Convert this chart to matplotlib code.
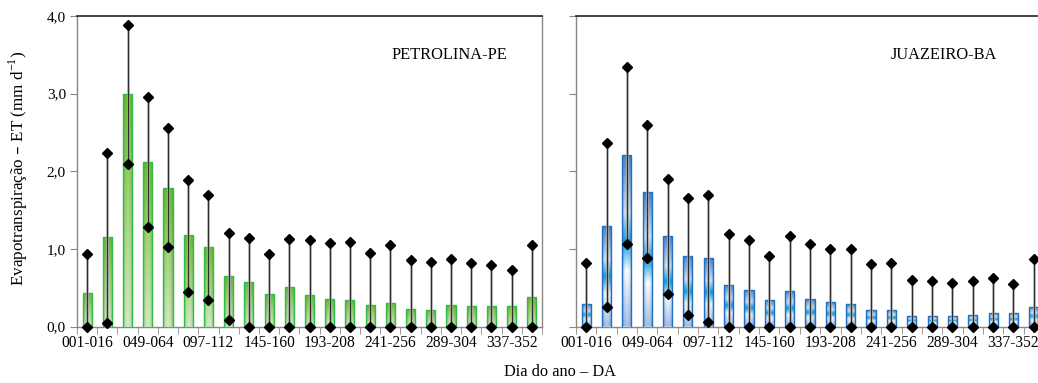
import numpy as np
import matplotlib
matplotlib.use("Agg")
import matplotlib.pyplot as plt
from matplotlib.colors import LinearSegmentedColormap, to_rgb

plt.rcParams['font.family'] = ['Liberation Serif', 'DejaVu Serif']

periods = ["001-016", "017-032", "033-048", "049-064", "065-080", "081-096",
           "097-112", "113-128", "129-144", "145-160", "161-176", "177-192",
           "193-208", "209-224", "225-240", "241-256", "257-272", "273-288",
           "289-304", "305-320", "321-336", "337-352", "353-365"]

pet_mean = [0.43, 1.15, 2.99, 2.12, 1.79, 1.18, 1.03, 0.65, 0.57, 0.42, 0.51, 0.41,
            0.36, 0.34, 0.28, 0.30, 0.22, 0.21, 0.28, 0.26, 0.26, 0.26, 0.38]
pet_max = [0.94, 2.24, 3.89, 2.96, 2.56, 1.89, 1.70, 1.20, 1.14, 0.93, 1.13, 1.12,
           1.07, 1.09, 0.95, 1.05, 0.86, 0.83, 0.87, 0.82, 0.79, 0.73, 1.05]
pet_min = [0.0, 0.04, 2.09, 1.28, 1.02, 0.45, 0.34, 0.09, 0.0, 0.0, 0.0, 0.0,
           0.0, 0.0, 0.0, 0.0, 0.0, 0.0, 0.0, 0.0, 0.0, 0.0, 0.0]

jua_mean = [0.29, 1.30, 2.21, 1.73, 1.16, 0.91, 0.88, 0.53, 0.47, 0.34, 0.46, 0.36,
            0.31, 0.29, 0.21, 0.21, 0.14, 0.14, 0.14, 0.15, 0.17, 0.17, 0.25]
jua_max = [0.82, 2.36, 3.34, 2.59, 1.90, 1.66, 1.70, 1.19, 1.11, 0.91, 1.16, 1.06,
           1.00, 1.00, 0.80, 0.82, 0.60, 0.58, 0.56, 0.58, 0.63, 0.55, 0.87]
jua_min = [0.0, 0.25, 1.06, 0.88, 0.42, 0.15, 0.06, 0.0, 0.0, 0.0, 0.0, 0.0,
           0.0, 0.0, 0.0, 0.0, 0.0, 0.0, 0.0, 0.0, 0.0, 0.0, 0.0]

yticks = [0, 1, 2, 3, 4]
ytick_labels = ["0,0", "1,0", "2,0", "3,0", "4,0"]

green_cmap = LinearSegmentedColormap.from_list(
    "g", [(0.0, "#d3eac4"), (0.5, "#a6d57e"), (1.0, "#6cb935")])
blue_cmap = LinearSegmentedColormap.from_list(
    "b", [(0.0, "#a3c0e6"), (0.32, "#ffffff"), (0.49, "#0ea0e0"),
          (0.66, "#dfeaf7"), (1.0, "#4683c8")])


def gradient_image(cmap, edge_col, strength):
    t = np.linspace(0, 1, 200)
    u = np.linspace(-1, 1, 40)
    base = cmap(t)[:, :3]
    fac = strength * np.abs(u) ** 2
    ec = np.array(to_rgb(edge_col))
    img = base[:, None, :] * (1 - fac[None, :, None]) + ec[None, None, :] * fac[None, :, None]
    return np.clip(img, 0, 1)


W, H = 1038, 383
fig = plt.figure(figsize=(W / 100, H / 100), dpi=100)
ax1 = fig.add_axes([77 / W, 1 - 326.5 / H, 465 / W, 310.5 / H])
ax2 = fig.add_axes([576 / W, 1 - 326.5 / H, 468 / W, 310.5 / H])

x = np.arange(len(periods))


def draw(ax, mean, mn, mx, cmap, edge, shade, name, tx, show_ylabels):
    bars = ax.bar(x, mean, width=0.45, color="none", edgecolor=edge,
                  linewidth=1.0, zorder=3)
    img = gradient_image(cmap, shade, 0.45)
    for b in bars:
        x0, w, h = b.get_x(), b.get_width(), b.get_height()
        im = ax.imshow(img, origin="lower", aspect="auto",
                       extent=[x0, x0 + w, 0, h], zorder=2,
                       interpolation="bilinear")
        im.set_clip_path(b)
    ax.vlines(x, mn, mx, colors="#a0a0a0", linewidth=1.8, zorder=4)
    ax.vlines(x, mn, mx, colors="#2a2a2a", linewidth=0.7, zorder=5)
    ax.plot(x, mx, linestyle="none", marker="D", markersize=5.2,
            color="black", zorder=6, clip_on=False)
    ax.plot(x, mn, linestyle="none", marker="D", markersize=5.2,
            color="black", zorder=6, clip_on=False)
    ax.set_xlim(-0.5, len(periods) - 0.5)
    ax.set_ylim(0, 4)
    ax.set_yticks(yticks)
    if show_ylabels:
        ax.set_yticklabels(ytick_labels, fontsize=11)
    else:
        ax.set_yticklabels([])
    ax.set_xticks(x[::3])
    ax.set_xticklabels(periods[::3], fontsize=11.2)
    ax.set_xticks(np.arange(len(periods) + 1) - 0.5, minor=True)
    ax.tick_params(axis="x", which="major", length=0, pad=6)
    ax.tick_params(axis="x", which="minor", length=5, color="#888888",
                   direction="out")
    ax.tick_params(axis="y", length=5, color="#888888", direction="out", pad=3)
    for s in ["left", "bottom", "right"]:
        ax.spines[s].set_color("#888888")
        ax.spines[s].set_linewidth(1.0)
    ax.spines["top"].set_color("#222222")
    ax.spines["top"].set_linewidth(1.2)
    ax.text(tx, 0.874, name, transform=ax.transAxes, ha="center",
            va="center", fontsize=11.8)


draw(ax1, pet_mean, pet_min, pet_max, green_cmap, "#2fba4a", "#4a9a2a",
     "PETROLINA-PE", 0.80, True)
draw(ax2, jua_mean, jua_min, jua_max, blue_cmap, "#1f6fc2", "#2a6cc0",
     "JUAZEIRO-BA", 0.786, False)

fig.text(18 / W, 1 - 168 / H, "Evapotranspiração – ET (mm d$^{\\mathregular{-1}}$)",
         rotation=90, ha="center", va="center", fontsize=12.3)
fig.text(560 / W, 1 - 372 / H, "Dia do ano – DA", ha="center", va="center",
         fontsize=11.8)

fig.savefig("out.png", dpi=100)
